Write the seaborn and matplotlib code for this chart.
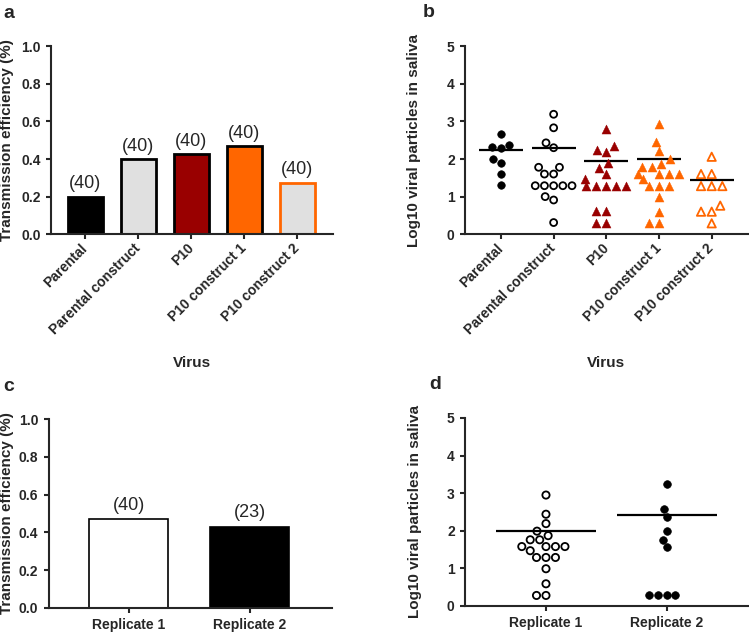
import numpy as np
import pandas as pd
import matplotlib
matplotlib.use('Agg')
import matplotlib.pyplot as plt
import seaborn as sns

# panel a / b categories
viruses = ['Parental', 'Parental construct', 'P10', 'P10 construct 1', 'P10 construct 2']
efficiency = [0.20, 0.40, 0.425, 0.47, 0.275]
n_tested = [40, 40, 40, 40, 40]

# log10 viral particles per mosquito (panel b)
parental = [2.66, 2.30, 2.36, 2.31, 1.90, 1.99, 1.59, 1.30]
parental_construct = [3.19, 2.83, 2.43, 2.30, 1.78, 1.78, 1.60, 1.60,
                      1.29, 1.29, 1.29, 1.29, 1.29, 1.00, 0.91, 0.31]
p10 = [2.81, 2.19, 2.35, 2.25, 1.90, 1.77, 1.60, 1.47,
       1.28, 1.28, 1.28, 1.28, 1.28, 0.62, 0.62, 0.29, 0.29]
p10_c1 = [2.94, 2.44, 2.20, 1.99, 1.88, 1.78, 1.78, 1.60, 1.60, 1.60, 1.60,
          1.47, 1.28, 1.28, 1.28, 0.98, 0.60, 0.29, 0.29]
p10_c2 = [2.06, 1.60, 1.60, 1.28, 1.28, 1.28, 0.76, 0.60, 0.60, 0.29]
b_lines = [2.23, 2.30, 1.95, 2.00, 1.44]

# panel c / d
replicates = ['Replicate 1', 'Replicate 2']
rep_eff = [0.47, 0.43]
rep_n = [40, 23]
rep1 = [2.95, 2.44, 2.19, 1.99, 1.87, 1.76, 1.76, 1.58, 1.58, 1.58, 1.58,
        1.47, 1.29, 1.29, 1.29, 0.99, 0.59, 0.28, 0.28]
rep2 = [3.25, 2.57, 2.36, 1.99, 1.76, 1.56, 0.28, 0.28, 0.28, 0.28]
d_lines = [2.00, 2.41]

DARKRED = '#990000'
ORANGE = '#ff6600'
LGRAY = '#e0e0e0'

sns.set_style('ticks')
plt.rcParams['font.family'] = ['Liberation Sans', 'DejaVu Sans']
plt.rcParams['font.weight'] = 'bold'

fig = plt.figure(figsize=(7.49, 6.33), dpi=100)
ax_a = fig.add_axes([0.068, 0.630, 0.377, 0.297])
ax_b = fig.add_axes([0.621, 0.630, 0.377, 0.297])
ax_c = fig.add_axes([0.065, 0.0395, 0.378, 0.2985])
ax_d = fig.add_axes([0.621, 0.0427, 0.377, 0.297])


def style_axis(ax):
    sns.despine(ax=ax)
    for s in ['left', 'bottom']:
        ax.spines[s].set_linewidth(1.5)
    ax.tick_params(width=1.5, length=3.5, pad=4, labelsize=10)
    for lab in ax.get_xticklabels() + ax.get_yticklabels():
        lab.set_fontweight('bold')


# ---- a: transmission efficiency bars
sns.barplot(x=viruses, y=efficiency, hue=viruses, palette=[
    'black', LGRAY, DARKRED, ORANGE, LGRAY], legend=False, width=0.66,
    saturation=1, edgecolor='black', linewidth=2, ax=ax_a)
for patch, ec in zip(ax_a.patches, ['black', 'black', 'black', 'black', ORANGE]):
    patch.set_edgecolor(ec)
for cont, n in zip(ax_a.containers, n_tested):
    ax_a.bar_label(cont, labels=[f'({n})'], padding=3, fontsize=13, fontweight='normal')
ax_a.set_xlim(-0.65, 4.68)
ax_a.set_ylim(0, 1.0)
ax_a.set_yticks(np.arange(0, 1.01, 0.2))
ax_a.set_yticklabels([f'{v:.1f}' for v in np.arange(0, 1.01, 0.2)])
ax_a.set_ylabel('Transmission efficiency (%)', fontsize=11, fontweight='bold')
ax_a.set_xlabel('Virus', fontsize=11, fontweight='bold')
style_axis(ax_a)

# ---- b: viral particles in saliva
groups = [parental, parental_construct, p10, p10_c1, p10_c2]
styles = [('o', 'black', 'black', 5.4, 0.5), ('o', 'none', 'black', 5.0, 1.3),
          ('^', DARKRED, DARKRED, 6.5, 0.3), ('^', ORANGE, ORANGE, 6.5, 0.3),
          ('^', 'none', ORANGE, 6.0, 1.3)]
for name, vals, (mk, fc, ec, sz, lw) in zip(viruses, groups, styles):
    sns.swarmplot(x=[name] * len(vals), y=vals, order=viruses, marker=mk,
                  color=ec, facecolor=fc, edgecolor=ec, linewidth=lw,
                  size=sz, ax=ax_b)
sns.pointplot(x=viruses, y=b_lines, order=viruses, color='black', marker='_',
              markersize=31, markeredgewidth=1.6, linestyle='none',
              errorbar=None, ax=ax_b)
ax_b.set_xlim(-0.68, 4.68)
ax_b.set_ylim(0, 5)
ax_b.set_yticks(range(0, 6))
ax_b.set_ylabel('Log10 viral particles in saliva', fontsize=11, fontweight='bold')
ax_b.set_xlabel('Virus', fontsize=11, fontweight='bold')
style_axis(ax_b)

for ax in (ax_a, ax_b):
    ax.set_xticks(range(len(viruses)))
    ax.set_xticklabels(viruses, rotation=45, ha='right', va='center',
                       rotation_mode='anchor', fontweight='bold', fontsize=10)
    ax.tick_params(axis='x', pad=5)
    ax.xaxis.set_label_coords(0.5, -0.65)
    ax.xaxis.label.set_va('top')
ax_a.yaxis.set_label_coords(-0.131, 0.5)
ax_b.yaxis.set_label_coords(-0.157, 0.5)

# ---- c: replicate bars
sns.barplot(x=replicates, y=rep_eff, hue=replicates, palette=['white', 'black'],
            legend=False, width=0.65, saturation=1, edgecolor='black',
            linewidth=1.2, ax=ax_c)
for cont, n in zip(ax_c.containers, rep_n):
    ax_c.bar_label(cont, labels=[f'({n})'], padding=4, fontsize=13, fontweight='normal')
ax_c.set_xlim(-0.66, 1.68)
ax_c.set_ylim(0, 1.0)
ax_c.set_yticks(np.arange(0, 1.01, 0.2))
ax_c.set_yticklabels([f'{v:.1f}' for v in np.arange(0, 1.01, 0.2)])
ax_c.set_ylabel('Transmission efficiency (%)', fontsize=11, fontweight='bold')
ax_c.set_xlabel('')
style_axis(ax_c)
ax_c.yaxis.set_label_coords(-0.124, 0.5)

# ---- d: replicate saliva
sns.swarmplot(x=['Replicate 1'] * len(rep1), y=rep1, order=replicates, marker='o',
              color='black', facecolor='none', edgecolor='black', linewidth=1.3,
              size=5.2, ax=ax_d)
sns.swarmplot(x=['Replicate 2'] * len(rep2), y=rep2, order=replicates, marker='o',
              color='black', edgecolor='black', linewidth=0.5, size=5.5, ax=ax_d)
sns.pointplot(x=replicates, y=d_lines, order=replicates, color='black', marker='_',
              markersize=72, markeredgewidth=1.6, linestyle='none',
              errorbar=None, ax=ax_d)
ax_d.set_xlim(-0.67, 1.67)
ax_d.set_ylim(0, 5)
ax_d.set_yticks(range(0, 6))
ax_d.set_ylabel('Log10 viral particles in saliva', fontsize=11, fontweight='bold')
ax_d.set_xlabel('')
style_axis(ax_d)
ax_d.yaxis.set_label_coords(-0.153, 0.5)

for ax in (ax_c, ax_d):
    ax.set_xticks(range(2))
    ax.set_xticklabels(replicates, fontweight='bold', fontsize=10)

# panel letters
for x, y, s in [(0.004, 0.971, 'a'), (0.565, 0.973, 'b'),
                (0.004, 0.383, 'c'), (0.573, 0.3855, 'd')]:
    fig.text(x, y, s, fontsize=14, fontweight='bold', va='baseline', ha='left')

fig.savefig('out.png', dpi=100)
